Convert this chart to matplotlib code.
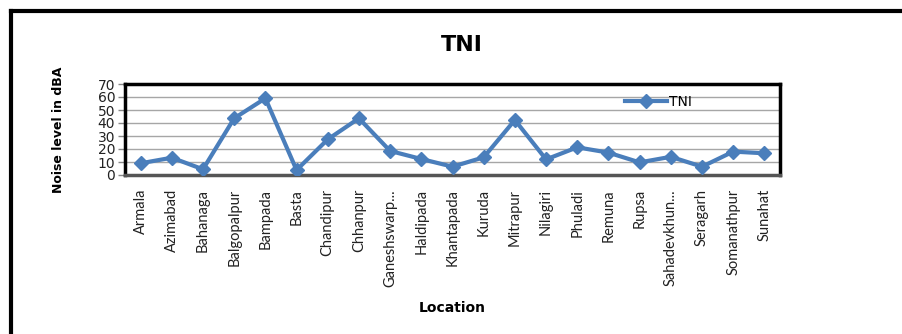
import matplotlib
matplotlib.use("Agg")
import matplotlib.pyplot as plt
from matplotlib.lines import Line2D

# Noise level per location (dBA)
locations = ["Armala", "Azimabad", "Bahanaga", "Balgopalpur", "Bampada", "Basta",
             "Chandipur", "Chhanpur", "Ganeshswarp...", "Haldipada", "Khantapada",
             "Kuruda", "Mitrapur", "Nilagiri", "Phuladi", "Remuna", "Rupsa",
             "Sahadevkhun...", "Seragarh", "Somanathpur", "Sunahat"]
tni = [9.0, 13.3, 4.4, 43.6, 59.0, 3.8, 27.4, 43.6, 18.5, 12.3, 6.4,
       13.6, 42.3, 12.0, 21.3, 17.2, 9.7, 14.0, 6.4, 18.0, 16.7]
y_ticks = [0, 10, 20, 30, 40, 50, 60, 70]

W, H = 902, 334
fig = plt.figure(figsize=(W / 100, H / 100), dpi=100)

# plot area in pixel coordinates
left, right, top, bottom = 125, 780, 84, 175
ax = fig.add_axes([left / W, 1 - bottom / H, (right - left) / W, (bottom - top) / H])

blue = "#4a7ebb"
x = list(range(len(locations)))
ax.plot(x, tni, color=blue, lw=3, marker="D", ms=7, mfc=blue, mec=blue,
        label="TNI", zorder=3)

ax.set_xlim(-0.5, len(locations) - 0.5)
ax.set_ylim(0, 70)
ax.set_yticks(y_ticks)
ax.set_yticklabels([str(v) for v in y_ticks], fontsize=10, color="#222222")
ax.yaxis.grid(True, color="#a6a6a6", lw=1)
ax.set_axisbelow(True)
ax.tick_params(axis="y", length=5, width=1, color="#888888", pad=2)
ax.tick_params(axis="x", length=0, pad=10)

ax.set_xticks(x)
ax.set_xticklabels(locations, rotation=90, fontsize=10.5,
                   family=["Lato", "DejaVu Sans"], color="#222222")

for side in ["top", "right", "left"]:
    ax.spines[side].set_color("black")
    ax.spines[side].set_linewidth(2.5)
ax.spines["bottom"].set_color("#555555")
ax.spines["bottom"].set_linewidth(2.5)

ax.set_ylabel("Noise level in dBA", fontsize=9, fontweight="bold")
ax.yaxis.set_label_coords((65 - left) / (right - left), 0.5)

leg = ax.legend(handles=[Line2D([], [], color=blue, lw=3, marker="D", ms=7)],
                labels=["TNI"], loc="upper left", bbox_to_anchor=(0.745, 1.02),
                frameon=False, fontsize=10, handlelength=3.0, handletextpad=0.15)

fig.text(462 / W, 1 - 45 / H, "TNI", ha="center", va="center",
         fontsize=16, fontweight="bold")
fig.text(452 / W, 1 - 308 / H, "Location", ha="center", va="center",
         fontsize=10, fontweight="bold")

# outer chart frame (left and top edges)
fig.add_artist(Line2D([11 / W, 11 / W], [0, 1 - 11 / H], transform=fig.transFigure,
                      color="black", lw=3))
fig.add_artist(Line2D([11 / W, 1], [1 - 11 / H, 1 - 11 / H], transform=fig.transFigure,
                      color="black", lw=3))

fig.savefig("out.png", dpi=100, facecolor="white")
